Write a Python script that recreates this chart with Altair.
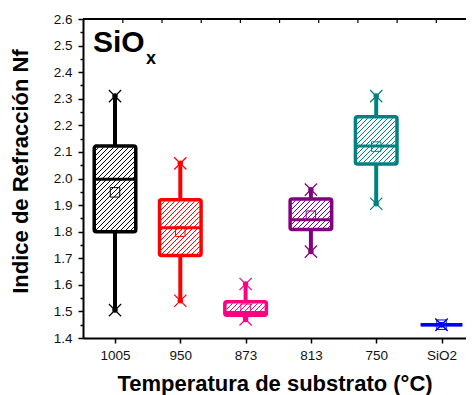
import altair as alt
import pandas as pd
import numpy as np

# ---- data ----
categories = ["1005", "950", "873", "813", "750", "SiO2"]
colors = ["#000000", "#FF0000", "#FF0080", "#800080", "#008080", "#0000FF"]
whisker_low = [1.505, 1.540, 1.470, 1.725, 1.905, 1.450]
q1 = [1.800, 1.710, 1.486, 1.808, 2.055, 1.450]
median = [1.997, 1.815, 1.496, 1.845, 2.122, 1.450]
q3 = [2.122, 1.920, 1.536, 1.923, 2.232, 1.450]
whisker_high = [2.310, 2.057, 1.603, 1.958, 2.310, 1.450]
mean = [1.948, 1.800, 1.510, 1.860, 2.120, 1.450]

y_ticks = [round(1.4 + 0.05 * i, 2) for i in range(25)]
top_ticks = [0.12, 0.72, 1.32, 1.92, 2.52, 3.12, 3.72, 4.32, 4.92]

# ---- layout ----
W, H = 383, 319
XDOM = [-0.49, 5.375]
YDOM = [1.4, 2.6]
HW = 0.318  # half box width in category units

idx = list(range(len(categories)))
df = pd.DataFrame({
    "i": idx, "cat": categories, "color": colors,
    "lo": whisker_low, "q1": q1, "med": median, "q3": q3, "hi": whisker_high, "mean": mean,
})
df["xl"] = df["i"] - HW
df["xr"] = df["i"] + HW

# hatch lines (///) clipped to each box, computed in pixel space and converted back
pxx = W / (XDOM[1] - XDOM[0])
pxy = H / (YDOM[1] - YDOM[0])
rows = []
for k in idx:
    if q3[k] - q1[k] <= 0:
        continue
    inset = 1.5
    left = (k - HW - XDOM[0]) * pxx + inset
    right = (k + HW - XDOM[0]) * pxx - inset
    bot = (q1[k] - YDOM[0]) * pxy + inset
    top = (q3[k] - YDOM[0]) * pxy - inset
    c = bot - right
    step = 5.0
    c = np.floor(c / step) * step
    while c < top - left:
        xa = max(left, bot - c)
        xb = min(right, top - c)
        if xa < xb:
            rows.append({
                "hx": xa / pxx + XDOM[0], "hx2": xb / pxx + XDOM[0],
                "hy": (xa + c) / pxy + YDOM[0], "hy2": (xb + c) / pxy + YDOM[0],
                "color": colors[k],
            })
        c += step
hatch = pd.DataFrame(rows)

ends = pd.concat([
    df[["i", "color"]].assign(v=df["lo"]),
    df[["i", "color"]].assign(v=df["hi"]),
])

xs = alt.Scale(domain=XDOM, nice=False, zero=False)
ys = alt.Scale(domain=YDOM, nice=False, zero=False)
FONT = "Liberation Sans"

label_expr = "[" + ",".join("'%s'" % c for c in categories) + "][datum.value]"
x_axis = alt.Axis(
    values=idx, labelExpr=label_expr, title="Temperatura de substrato (°C)",
    grid=False, domainWidth=2, domainColor="black", tickColor="black", tickWidth=1.5, tickSize=5,
    labelFont=FONT, labelFontSize=13.5, labelColor="#111", labelPadding=5,
    titleFont=FONT, titleFontSize=22, titleFontWeight="bold", titleColor="black",
    titleBaseline="alphabetic", titleY=52,
)
major_test = "abs(datum.value*10 - round(datum.value*10)) < 0.001"
y_axis = alt.Axis(
    values=y_ticks, labelExpr=major_test + " ? format(datum.value, '.1f') : ''",
    labelOverlap=False,
    title="Indice de Refracción Nf", grid=False, domainWidth=2, domainColor="black",
    tickColor="black", tickWidth=1.5,
    tickSize={"condition": {"test": major_test, "value": 5}, "value": 3},
    labelFont=FONT, labelFontSize=13.5, labelColor="#111", labelPadding=6,
    titleFont=FONT, titleFontSize=22, titleFontWeight="bold", titleColor="black",
    titleBaseline="alphabetic", titleX=-56, titleY=152, titleAngle=-90,
)

base = alt.Chart(df)
colr = alt.Color("color:N", scale=None, legend=None)

whiskers = base.mark_rule(strokeWidth=4).encode(
    x=alt.X("i:Q", scale=xs, axis=x_axis), y=alt.Y("lo:Q", scale=ys, axis=y_axis), y2="hi:Q", color=colr)
box_bg = base.mark_rect(fill="white").encode(
    x=alt.X("xl:Q", scale=xs), x2="xr:Q", y=alt.Y("q1:Q", scale=ys), y2="q3:Q")
hatch_l = alt.Chart(hatch).mark_rule(strokeWidth=1).encode(
    x=alt.X("hx:Q", scale=xs), x2="hx2:Q", y=alt.Y("hy:Q", scale=ys), y2="hy2:Q", color=colr)
box = base.mark_rect(filled=False, strokeWidth=3.5, cornerRadius=2).encode(
    x=alt.X("xl:Q", scale=xs), x2="xr:Q", y=alt.Y("q1:Q", scale=ys), y2="q3:Q",
    stroke=alt.Stroke("color:N", scale=None, legend=None))
med = base.mark_rule(strokeWidth=3).encode(
    x=alt.X("xl:Q", scale=xs), x2="xr:Q", y=alt.Y("med:Q", scale=ys), color=colr)
means = base.mark_point(shape="square", size=90, filled=False, strokeWidth=1, opacity=1).encode(
    x=alt.X("i:Q", scale=xs), y=alt.Y("mean:Q", scale=ys), color=colr)
xmark = alt.Chart(ends).mark_point(shape="M-1,-1L1,1M-1,1L1,-1", size=150, filled=False,
                                   strokeWidth=1.2, opacity=1).encode(
    x=alt.X("i:Q", scale=xs), y=alt.Y("v:Q", scale=ys), color=colr)
dot = alt.Chart(ends).mark_point(shape="circle", size=30, filled=True, opacity=1).encode(
    x=alt.X("i:Q", scale=xs), y=alt.Y("v:Q", scale=ys), color=colr)

top_line = alt.Chart(pd.DataFrame({"a": [0]})).mark_rule(strokeWidth=2, color="black").encode(
    x=alt.value(0), x2=alt.value(W), y=alt.value(0))
top_tk = alt.Chart(pd.DataFrame({"t": top_ticks})).mark_rule(strokeWidth=1.2, color="black").encode(
    x=alt.X("t:Q", scale=xs), y=alt.value(0), y2=alt.value(4))

txt_main = alt.Chart(pd.DataFrame({"s": ["SiO"]})).mark_text(
    font=FONT, fontSize=30, fontWeight="bold", align="left", baseline="alphabetic", color="black"
).encode(text="s:N", x=alt.value(10), y=alt.value(33))
txt_sub = alt.Chart(pd.DataFrame({"s": ["x"]})).mark_text(
    font=FONT, fontSize=18, fontWeight="bold", align="left", baseline="alphabetic", color="black"
).encode(text="s:N", x=alt.value(63), y=alt.value(45))

chart = alt.layer(
    whiskers, box_bg, hatch_l, box, med, means, xmark, dot, top_line, top_tk, txt_main, txt_sub
).properties(
    width=W, height=H,
    padding={"left": 75, "top": 11, "right": 0, "bottom": 58},
    autosize=alt.AutoSizeParams(type="none"),
).configure_view(stroke=None).configure(background="white").configure_axis(
    labelOverlap=False, labelBound=False, labelFlush=False
).configure_axisY(labelOverlap=False, tickCount=25)

chart.save("out.html", embed_options={"renderer": "svg", "actions": False})
